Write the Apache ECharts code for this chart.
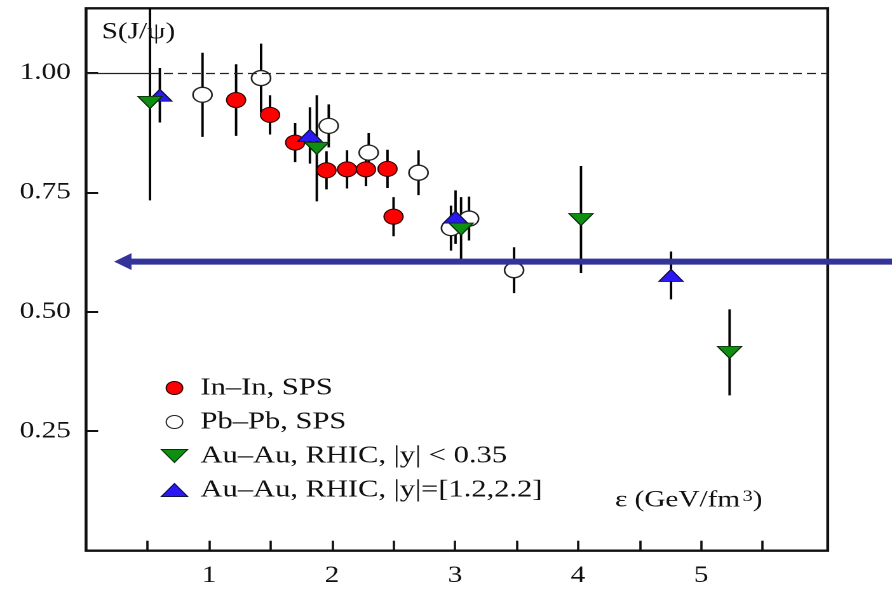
<!DOCTYPE html>
<html>
<head>
<meta charset="utf-8">
<title>J/psi survival probability vs energy density</title>
<script src="https://cdn.jsdelivr.net/npm/echarts@6/dist/echarts.min.js"></script>
<style>
  html, body { margin: 0; padding: 0; background: #fff; overflow: hidden; }
  #wrap { width: 892px; height: 590px; overflow: hidden; }
  /* the figure is laid out narrower and widened, as in the printed plot */
  #chart { width: 702px; height: 590px; transform: scaleX(1.2707); transform-origin: 0 0; }
</style>
</head>
<body>
<div id="wrap"><div id="chart"></div></div>
<script>
// energy density (GeV/fm^3), survival probability S(J/psi), and its error
const inInX   = [1.22, 1.496, 1.70, 1.955, 2.122, 2.276, 2.451, 2.50];
const inInY   = [0.943, 0.912, 0.854, 0.796, 0.798, 0.798, 0.799, 0.699];
const inInErr = [0.075, 0.041, 0.041, 0.040, 0.040, 0.035, 0.040, 0.041];

const pbPbX   = [0.947, 1.423, 1.973, 2.298, 2.703, 2.967, 3.114, 3.48];
const pbPbY   = [0.954, 0.989, 0.889, 0.833, 0.791, 0.675, 0.695, 0.587];
const pbPbErr = [0.088, 0.072, 0.045, 0.041, 0.047, 0.047, 0.046, 0.048];

const auMidX   = [0.52, 1.876, 3.049, 4.024, 5.232];
const auMidY   = [0.938, 0.842, 0.673, 0.693, 0.415];
const auMidErr = [0.205, 0.111, 0.067, 0.112, 0.090];

const auFwdX   = [0.60, 1.82, 3.004, 4.756];
const auFwdY   = [0.953, 0.869, 0.698, 0.576];
const auFwdErr = [0.057, 0.059, 0.056, 0.050];

const seriesNames = [
  'In–In, SPS',
  'Pb–Pb, SPS',
  'Au–Au, RHIC, |y| < 0.35',
  'Au–Au, RHIC, |y|=[1.2,2.2]'
];

const xTickValues  = [0.5, 1, 1.5, 2, 2.5, 3, 3.5, 4, 4.5, 5, 5.5];
const xLabelValues = [1, 2, 3, 4, 5];
const yTickValues  = [0.25, 0.5, 0.75, 1.0];

const unityLevel = 1.0;     // S = 1 reference line
const arrowLevel = 0.605;   // marked level
const arrowTipX  = 0.228;
const arrowTailX = 6.6;

const SERIF = '"Liberation Serif", "DejaVu Serif", serif';
const INK = '#111';
const ARROW = '#333399';

function points(xs, ys) { return xs.map((x, i) => [x, ys[i]]); }
function bars(xs, ys, es) { return xs.map((x, i) => [x, ys[i] - es[i], ys[i] + es[i]]); }

const errorData = []
  .concat(bars(inInX, inInY, inInErr))
  .concat(bars(pbPbX, pbPbY, pbPbErr))
  .concat(bars(auMidX, auMidY, auMidErr))
  .concat(bars(auFwdX, auFwdY, auFwdErr));

const chart = echarts.init(document.getElementById('chart'), null, { devicePixelRatio: 2 });

const axisFont = { fontFamily: SERIF, fontSize: 23, color: INK };

chart.setOption({
  animation: false,
  backgroundColor: '#fff',
  grid: {
    left: 67.7, right: 50.6, top: 8.3, bottom: 39.3,
    show: true, borderColor: INK, borderWidth: 2.3,
    containLabel: false, outerBoundsMode: 'none'
  },
  title: [
    {
      text: 'S(J/ψ)', left: 80, top: 21, padding: 0,
      textStyle: { fontFamily: SERIF, fontSize: 23, fontWeight: 'normal', color: INK }
    },
    {
      text: 'ε (GeV/fm{s|3})', left: 484, top: 489, padding: 0,
      textStyle: {
        fontFamily: SERIF, fontSize: 23, fontWeight: 'normal', color: INK,
        rich: { s: { fontFamily: SERIF, fontSize: 16, color: INK, verticalAlign: 'top', padding: [0, 0, 0, 2] } }
      }
    }
  ],
  legend: {
    orient: 'vertical', left: 121.5, top: 371,
    itemWidth: 31, itemHeight: 13, itemGap: 10,
    selectedMode: false,
    itemStyle: { borderWidth: 1, opacity: 1 },
    textStyle: { fontFamily: SERIF, fontSize: 24, color: INK },
    data: [
      { name: seriesNames[0], icon: 'circle' },
      { name: seriesNames[1], icon: 'circle' },
      { name: seriesNames[2], icon: 'path://M0,0L19,0L9.5,12Z' },
      { name: seriesNames[3], icon: 'path://M9.5,0L19,12L0,12Z' }
    ]
  },
  xAxis: {
    type: 'value', min: 0, max: 6.03,
    axisLine: { show: false },
    splitLine: { show: false },
    axisTick: { show: true, inside: true, length: 10, customValues: xTickValues,
                lineStyle: { color: INK, width: 1.8 } },
    axisLabel: Object.assign({ customValues: xLabelValues, margin: 14 }, axisFont)
  },
  yAxis: {
    type: 'value', min: 0, max: 1.135,
    axisLine: { show: false },
    splitLine: { show: false },
    axisTick: { show: true, inside: true, length: 9.5, customValues: yTickValues,
                lineStyle: { color: INK, width: 2 } },
    axisLabel: Object.assign({ customValues: yTickValues, margin: 12,
                               formatter: v => v.toFixed(2) }, axisFont)
  },
  series: [
    {
      type: 'custom',
      name: 'errors',
      clip: true,
      silent: true,
      z: 1,
      encode: { x: 0, y: [1, 2] },
      data: errorData,
      renderItem: function (params, api) {
        const x = api.value(0);
        const lo = api.coord([x, api.value(1)]);
        const hi = api.coord([x, api.value(2)]);
        return {
          type: 'line',
          shape: { x1: lo[0], y1: lo[1], x2: hi[0], y2: hi[1] },
          style: { stroke: '#000', lineWidth: 1.9 }
        };
      }
    },
    {
      type: 'scatter', name: seriesNames[1], z: 2, silent: true,
      symbol: 'circle', symbolSize: 15,
      itemStyle: { color: '#fff', borderColor: '#222', borderWidth: 1.3, opacity: 1 },
      data: points(pbPbX, pbPbY),
      markLine: {
        silent: true, symbol: ['none', 'none'], label: { show: false },
        emphasis: { disabled: true },
        data: [
          [ { coord: [0, unityLevel], lineStyle: { type: 'solid', color: '#222', width: 1.2 } },
            { coord: [0.52, unityLevel] } ],
          [ { coord: [0.52, unityLevel], lineStyle: { type: [7, 4], color: '#222', width: 1.2 } },
            { coord: [6.03, unityLevel] } ]
        ]
      }
    },
    {
      type: 'scatter', name: seriesNames[0], z: 3, silent: true,
      symbol: 'circle', symbolSize: 15,
      itemStyle: { color: '#ff0000', borderColor: '#2a0000', borderWidth: 1, opacity: 1 },
      data: points(inInX, inInY)
    },
    {
      type: 'scatter', name: seriesNames[3], z: 4, silent: true,
      symbol: 'triangle', symbolSize: [19, 12],
      itemStyle: { color: '#2a18f5', borderColor: '#10104a', borderWidth: 1, opacity: 1 },
      data: points(auFwdX, auFwdY)
    },
    {
      type: 'scatter', name: seriesNames[2], z: 5, silent: true,
      symbol: 'triangle', symbolSize: [19, 12], symbolRotate: 180,
      itemStyle: { color: '#0e8f12', borderColor: '#0a300a', borderWidth: 1, opacity: 1 },
      data: points(auMidX, auMidY)
    }
  ]
});

// horizontal arrow marking a level, placed through the axes' own scales
const tip  = chart.convertToPixel({ gridIndex: 0 }, [arrowTipX, arrowLevel]);
const tail = chart.convertToPixel({ gridIndex: 0 }, [arrowTailX, arrowLevel]);
const headLen = 13.7, headHalf = 8.4;
chart.setOption({
  graphic: [
    {
      type: 'line', silent: true, z: 50,
      shape: { x1: tip[0] + headLen - 1, y1: tip[1], x2: tail[0], y2: tail[1] },
      style: { stroke: ARROW, lineWidth: 6 }
    },
    {
      type: 'polygon', silent: true, z: 50,
      shape: { points: [[tip[0], tip[1]], [tip[0] + headLen, tip[1] - headHalf], [tip[0] + headLen, tip[1] + headHalf]] },
      style: { fill: ARROW }
    }
  ]
});
</script>
</body>
</html>
